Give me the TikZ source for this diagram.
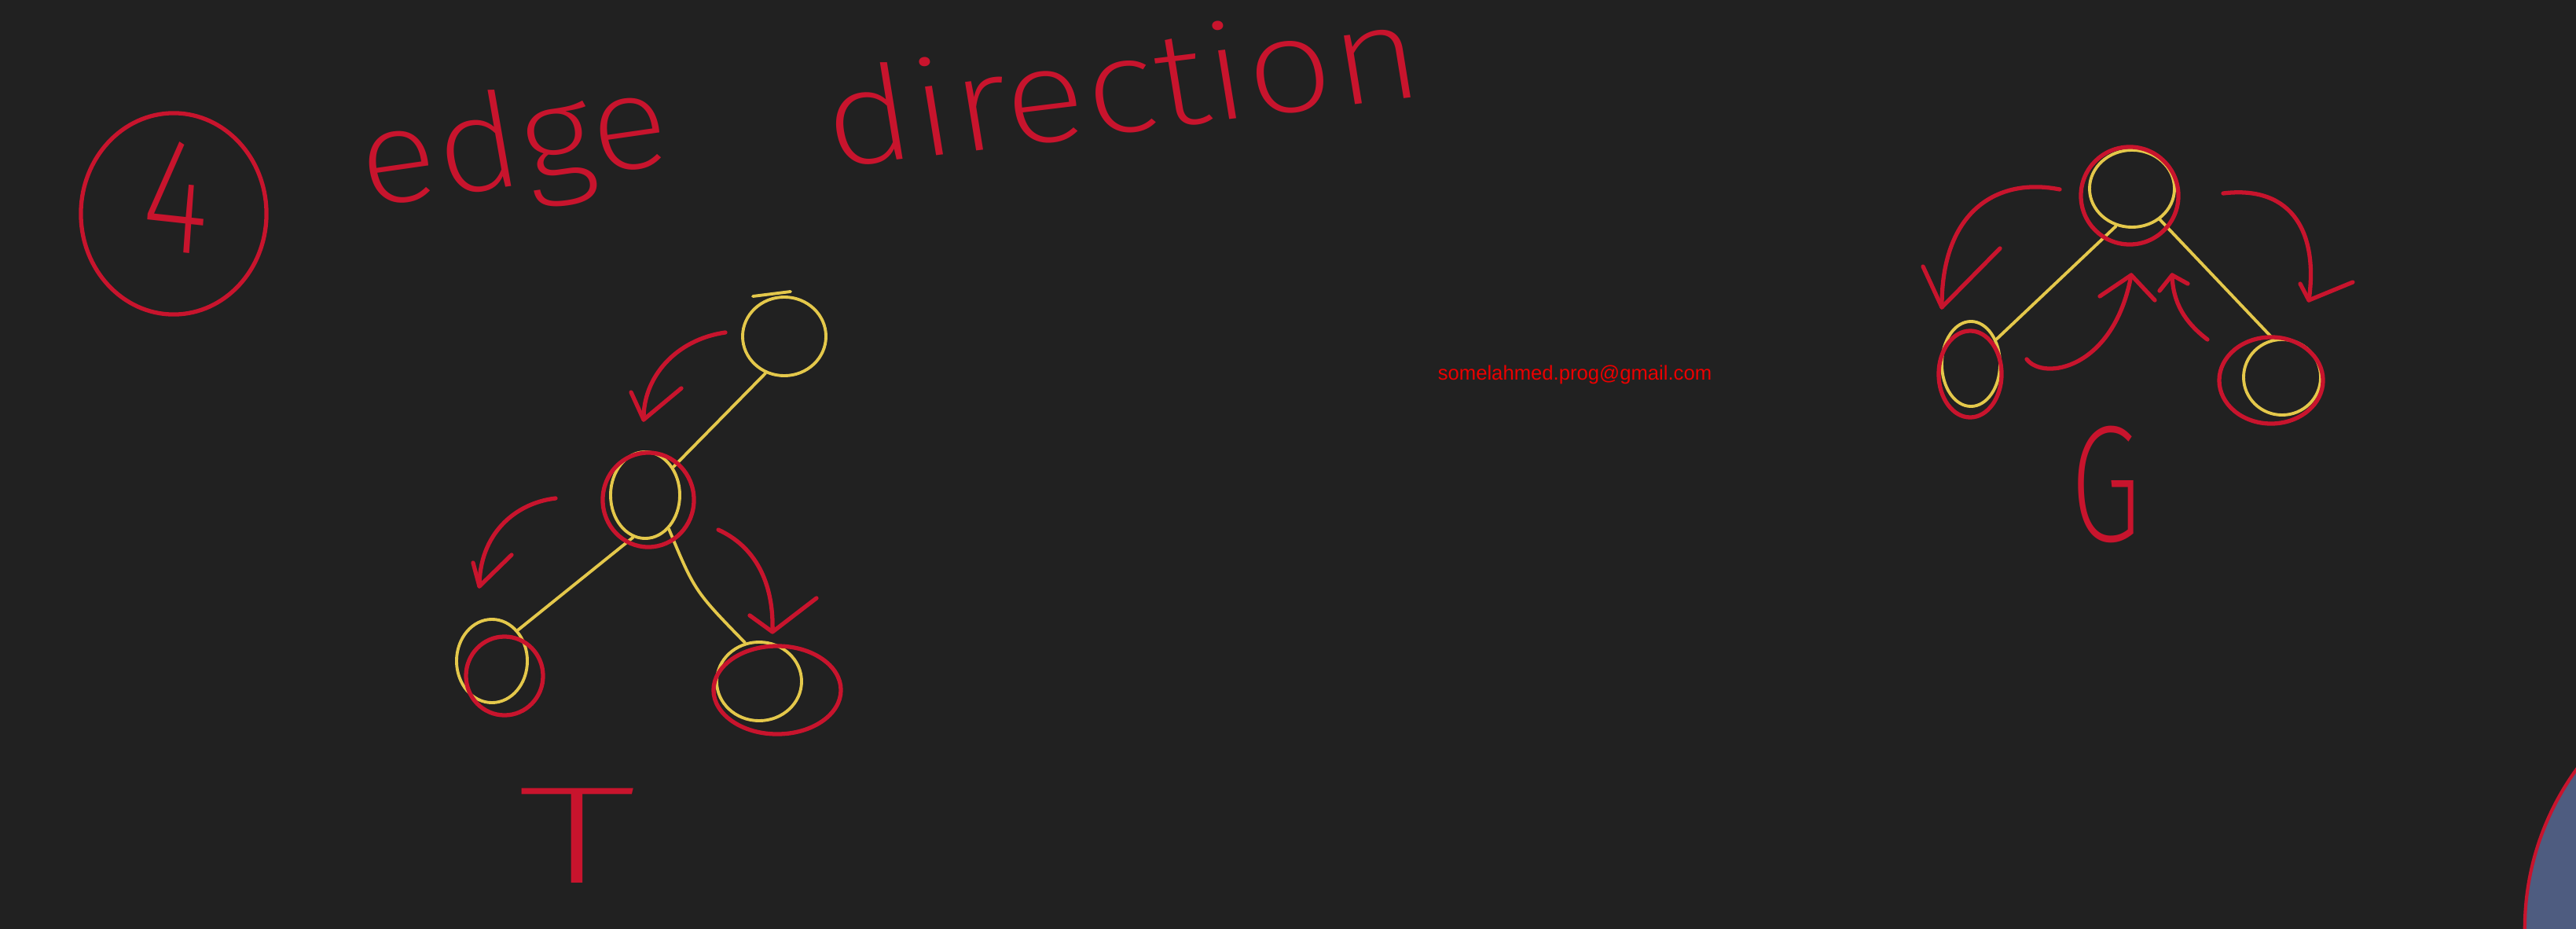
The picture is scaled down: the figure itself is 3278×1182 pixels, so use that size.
\documentclass[tikz,border=0pt]{standalone}
\usepackage{fontspec}
\usetikzlibrary{shapes.geometric}
\newfontfamily\emailfont{Liberation Sans}
\newfontfamily\handup{Fira Sans ExtraLight}
\definecolor{bgc}{RGB}{33,33,33}
\definecolor{pen}{RGB}{200,20,45}
\definecolor{yel}{RGB}{228,200,75}
\definecolor{mailred}{RGB}{235,0,0}
\definecolor{avatar}{RGB}{78,92,128}
\begin{document}
\begin{tikzpicture}[x=0.01cm,y=-0.01cm,
  ynode/.style={ellipse, draw=yel, line width=1.1pt, inner sep=0pt},
  yedge/.style={draw=yel, line width=1.1pt, line cap=round},
  hl/.style={draw=pen, line width=1.5pt},
  redarrow/.style={draw=pen, line width=1.5pt, line cap=round, line join=round},
  hand/.style={text=pen, inner sep=0pt}]
\useasboundingbox (0,0) rectangle (3278,1182);
\fill[bgc] (0,0) rectangle (3278,1182);

% webcam avatar in the corner
\begin{scope}
\clip (0,0) rectangle (3278,1182);
\fill[avatar, draw=pen, line width=1.2pt] (3559,1182) circle [radius=3.46cm];
\end{scope}

% title
\draw[hl] (221,272) ellipse [x radius=1.18cm, y radius=1.28cm];
\node[hand, font={\handup\fontsize{59}{60}\selectfont}, xscale=0.8, rotate=-5] (four) at (225,250) {4};
\node[hand, font={\handup\fontsize{48}{50}\selectfont}, anchor=base west, xscale=1.1, rotate=9] (edge) at (466,264) {edge};
\node[hand, font={\handup\fontsize{48}{50}\selectfont}, anchor=base west, xscale=1.15, rotate=8] (direction) at (1058,214) {direction};

% email
\node[text=mailred, font={\emailfont\fontsize{7.3}{9}\selectfont}, anchor=base, inner sep=0pt] (mail) at (2004,483) {somelahmed.prog@gmail.com};

% ---------------- tree T ----------------
\node[ynode, minimum width=1.06cm, minimum height=1.0cm] (t1) at (998,428) {};
\node[ynode, minimum width=0.88cm, minimum height=1.1cm] (t2) at (821,630) {};
\node[ynode, minimum width=0.9cm, minimum height=1.06cm] (t3) at (626,841) {};
\node[ynode, minimum width=1.08cm, minimum height=1.0cm] (t4) at (966,867) {};
\draw[yel, line width=1.1pt, line cap=round] (958,377) -- (1006,371);
\draw[yedge] (t1.243) -- (t2.45);
\draw[yedge] (t2.254) -- (t3.50);
\draw[yedge] (t2.-55) .. controls (884,752) .. (t4.110);

\draw[hl] (825,636) ellipse [x radius=0.58cm, y radius=0.6cm];
\draw[hl] (642,860) ellipse [x radius=0.49cm, y radius=0.5cm];
\draw[hl] (989,878) ellipse [x radius=0.81cm, y radius=0.56cm];

\coordinate (ta1s) at (923,423); \coordinate (ta1t) at (819,534);
\draw[redarrow] (ta1s) .. controls (860,432) and (818,480) .. (ta1t);
\draw[redarrow] (803,499) -- (ta1t) -- (867,494);

\coordinate (ta2s) at (707,634); \coordinate (ta2t) at (610,746);
\draw[redarrow] (ta2s) .. controls (655,640) and (610,680) .. (ta2t);
\draw[redarrow] (602,716) -- (ta2t) -- (651,706);

\coordinate (ta3s) at (914,674); \coordinate (ta3t) at (983,804);
\draw[redarrow] (ta3s) .. controls (960,695) and (985,740) .. (ta3t);
\draw[redarrow] (954,783) -- (ta3t) -- (1039,761);

\node[hand, font={\handup\fontsize{50}{52}\selectfont}, xscale=1.75] (tlabel) at (734,1063) {T};

% ---------------- graph G ----------------
\node[ynode, minimum width=1.08cm, minimum height=0.98cm] (g1) at (2713,240) {};
\node[ynode, minimum width=0.74cm, minimum height=1.08cm] (g2) at (2508,463) {};
\node[ynode, minimum width=0.98cm, minimum height=0.96cm] (g3) at (2904,480) {};
\draw[yedge] (g1.-113) -- (g2.44);
\draw[yedge] (g1.-48) -- (g3.103);

\draw[hl] (2710,249) ellipse [x radius=0.62cm, y radius=0.62cm];
\draw[hl] (2507,476) ellipse [x radius=0.4cm, y radius=0.55cm];
\draw[hl] (2890,484) ellipse [x radius=0.66cm, y radius=0.55cm];

\coordinate (ga1s) at (2621,241); \coordinate (ga1t) at (2471,391);
\draw[redarrow] (ga1s) .. controls (2540,225) and (2470,270) .. (ga1t);
\draw[redarrow] (2447,339) -- (ga1t) -- (2545,316);

\coordinate (ga2s) at (2579,457); \coordinate (ga2t) at (2712,350);
\draw[redarrow] (ga2s) .. controls (2600,485) and (2690,470) .. (ga2t);
\draw[redarrow] (2672,377) -- (ga2t) -- (2742,382);

\coordinate (ga3s) at (2809,432); \coordinate (ga3t) at (2764,350);
\draw[redarrow] (ga3s) .. controls (2780,410) and (2765,385) .. (ga3t);
\draw[redarrow] (2748,370) -- (ga3t) -- (2784,361);

\coordinate (ga4s) at (2829,246); \coordinate (ga4t) at (2938,382);
\draw[redarrow] (ga4s) .. controls (2920,235) and (2950,300) .. (ga4t);
\draw[redarrow] (2927,361) -- (ga4t) -- (2994,359);

\node[hand, font={\handup\fontsize{60}{62}\selectfont}, xscale=0.7] (glabel) at (2680,616) {G};
\end{tikzpicture}
\end{document}
